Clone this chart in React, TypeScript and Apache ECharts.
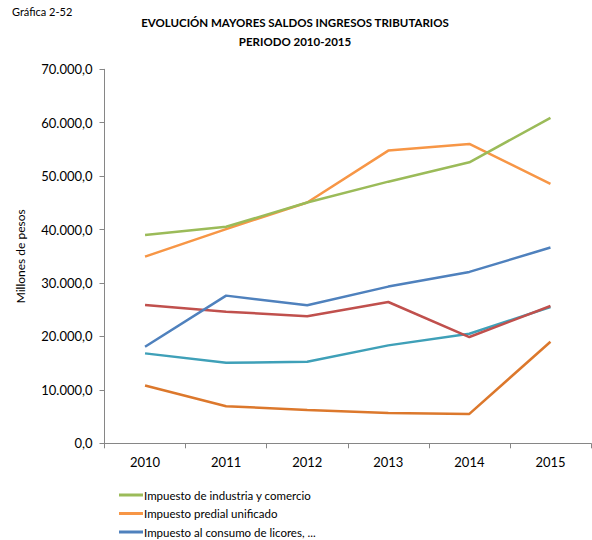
import React, { useEffect, useRef } from "react";
import * as echarts from "echarts";

const years = ["2010", "2011", "2012", "2013", "2014", "2015"];

const industriaComercio = [38970, 40520, 45080, 48970, 52590, 60920];
const predialUnificado = [34950, 40090, 45080, 54780, 56040, 48540];
const consumoLicores = [18070, 27640, 25830, 29330, 32080, 36640];
const serieRoja = [25890, 24640, 23770, 26450, 19890, 25700];
const serieTurquesa = [16830, 15070, 15250, 18330, 20510, 25520];
const serieNaranjaOscura = [10830, 6940, 6250, 5690, 5500, 19010];

const seriesNames = [
  "Impuesto de industria y comercio",
  "Impuesto predial unificado",
  "Impuesto al consumo de licores, ...",
  "Sobretasa a la gasolina",
  "Impuesto de registro",
  "Estampillas",
];
const seriesData = [
  industriaComercio,
  predialUnificado,
  consumoLicores,
  serieRoja,
  serieTurquesa,
  serieNaranjaOscura,
];
const colors = ["#9BBB59", "#F79646", "#4F81BD", "#C0504D", "#3FA0B8", "#DC782C"];

const FONT = "Lato, 'Open Sans', sans-serif";

function fmt(v: number): string {
  const s = Math.round(v).toString().replace(/\B(?=(\d{3})+(?!\d))/g, ".");
  return s + ",0";
}

export default function App() {
  const ref = useRef<HTMLDivElement>(null);
  useEffect(() => {
    if (!ref.current) return;
    const chart = echarts.init(ref.current, undefined, { renderer: "svg" });
    chart.setOption({
      animation: false,
      backgroundColor: "#ffffff",
      title: {
        text: "EVOLUCIÓN MAYORES SALDOS INGRESOS TRIBUTARIOS\nPERIODO 2010-2015",
        left: 290,
        top: 8,
        textAlign: "center",
        textStyle: {
          fontFamily: FONT,
          fontSize: 11.5,
          fontWeight: "bold",
          color: "#000",
          lineHeight: 19,
        },
      },
      graphic: [
        {
          type: "text",
          left: 12,
          top: 6,
          style: { text: "Gráfica 2-52", fontFamily: FONT, fontSize: 11, fill: "#000" },
        },
      ],
      legend: {
        orient: "vertical",
        left: 119,
        top: 488,
        padding: 0,
        itemWidth: 24,
        itemHeight: 3,
        itemGap: 4.5,
        icon: "rect",
        data: seriesNames.slice(0, 3),
        textStyle: { fontFamily: FONT, fontSize: 11.5, color: "#000", padding: [0, 0, 0, -4], lineHeight: 14 },
      },
      grid: { left: 104.5, right: 1, top: 69.3, bottom: 96.7 },
      xAxis: {
        type: "category",
        data: years,
        boundaryGap: true,
        axisLine: { lineStyle: { color: "#868686" } },
        axisTick: { show: true, length: 5, lineStyle: { color: "#868686" } },
        axisLabel: { fontFamily: FONT, fontSize: 13, color: "#000", margin: 12 },
      },
      yAxis: {
        type: "value",
        min: 0,
        max: 70000,
        interval: 10000,
        name: "Millones de pesos",
        nameLocation: "middle",
        nameGap: 78,
        nameTextStyle: { fontFamily: FONT, fontSize: 12, color: "#000" },
        axisLine: { show: true, lineStyle: { color: "#868686" } },
        axisTick: { show: true, length: 5, lineStyle: { color: "#868686" } },
        splitLine: { show: false },
        axisLabel: {
          fontFamily: FONT,
          fontSize: 13,
          color: "#000",
          margin: 12,
          formatter: (v: number) => fmt(v),
        },
      },
      series: seriesNames.map((name, i) => ({
        name,
        type: "line",
        data: seriesData[i],
        showSymbol: false,
        symbol: "none",
        color: colors[i],
        lineStyle: { width: 2.5, color: colors[i] },
        z: 10 - i,
      })),
    });
    return () => chart.dispose();
  }, []);
  return (
    <div
      ref={ref}
      style={{ position: "absolute", left: 0, top: 0, width: 592, height: 540 }}
    />
  );
}
